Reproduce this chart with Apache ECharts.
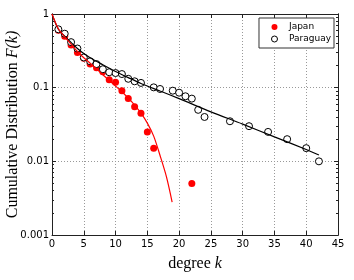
<!DOCTYPE html>
<html>
<head>
<meta charset="utf-8">
<script src="https://cdn.jsdelivr.net/npm/echarts@6/dist/echarts.min.js"></script>
<style>
html,body{margin:0;padding:0;background:#fff;}
#chart{width:354px;height:280px;}
</style>
</head>
<body>
<div id="chart"></div>
<script>
// ---- data ----
var japanK = [1, 2, 3, 4, 5, 6, 7, 8, 9, 10, 11, 12, 13, 14, 15, 16, 22];
var japanF = [0.60, 0.50, 0.38, 0.30, 0.25, 0.21, 0.186, 0.165, 0.128, 0.118, 0.091, 0.071, 0.055, 0.045, 0.025, 0.015, 0.005];

var paraguayK = [1, 2, 3, 4, 5, 6, 7, 8, 9, 10, 11, 12, 13, 14, 16, 17, 19, 20, 21, 22, 23, 24, 28, 31, 34, 37, 40, 42];
var paraguayF = [0.62, 0.54, 0.415, 0.34, 0.257, 0.228, 0.209, 0.178, 0.162, 0.158, 0.153, 0.132, 0.122, 0.116, 0.101, 0.096, 0.091, 0.0855, 0.0764, 0.071, 0.050, 0.040, 0.035, 0.030, 0.0251, 0.020, 0.0151, 0.010];

var fitParaguayK = [0, 1, 2, 3, 4, 5, 6, 8, 10, 12, 14, 17, 20, 25, 30, 35, 40, 42];
var fitParaguayF = [1.0, 0.62, 0.50, 0.41, 0.34, 0.29, 0.255, 0.205, 0.166, 0.137, 0.114, 0.090, 0.071, 0.047, 0.032, 0.0215, 0.0145, 0.0122];

var fitJapanK = [0, 1, 2, 3, 4, 5, 6, 7, 8, 9, 10, 11, 12, 13, 14, 15, 16, 17, 18, 18.9];
var fitJapanF = [1.0, 0.63, 0.49, 0.39, 0.31, 0.255, 0.215, 0.18, 0.15, 0.125, 0.105, 0.088, 0.072, 0.058, 0.045, 0.033, 0.022, 0.012, 0.0062, 0.0028];

var xTicks = [0, 5, 10, 15, 20, 25, 30, 35, 40, 45];
var yTickValues = [0.001, 0.01, 0.1, 1];
var yTickLabels = ['0.001', '0.01', '0.1', '1'];
var yMinorTicks = [0.002, 0.003, 0.004, 0.005, 0.006, 0.007, 0.008, 0.009,
                   0.02, 0.03, 0.04, 0.05, 0.06, 0.07, 0.08, 0.09,
                   0.2, 0.3, 0.4, 0.5, 0.6, 0.7, 0.8, 0.9];

var seriesNames = ['Japan', 'Paraguay'];
var xAxisName = 'degree ';
var xAxisVar = 'k';
var yAxisName = 'Cumulative Distribution ';
var yAxisVar = 'F(k)';

function pairs(a, b) { return a.map(function (v, i) { return [v, b[i]]; }); }

// ---- chart ----
var chart = echarts.init(document.getElementById('chart'), null, {renderer: 'canvas'});
var axisLine = {show: true, lineStyle: {color: '#222', width: 1}};
var tickFont = {fontFamily: 'DejaVu Sans', fontSize: 10, color: '#000'};
var serif = 'Liberation Serif';

function yAxisBase(pos) {
  return {
    type: 'log', logBase: 10, min: 0.001, max: 1, position: pos,
    axisLine: axisLine, splitLine: {show: false}, axisLabel: {show: false},
    axisTick: {show: true, inside: true, length: 4, lineStyle: {color: '#222'}}
  };
}

var yLeft = yAxisBase('left');
yLeft.axisLabel = Object.assign({show: true, margin: 3, formatter: function (v) {
  for (var i = 0; i < yTickValues.length; i++) {
    if (Math.abs(Math.log10(v) - Math.log10(yTickValues[i])) < 1e-6) return yTickLabels[i];
  }
  return '';
}}, tickFont);
yLeft.splitLine = {show: true, lineStyle: {color: '#999', type: [1, 2], width: 1}};
yLeft.name = '{n|' + yAxisName + '}{i|' + yAxisVar + '}';
yLeft.nameLocation = 'middle';
yLeft.nameGap = 31;
yLeft.nameMoveOverlap = false;
yLeft.nameTextStyle = {
  fontFamily: serif, fontSize: 16, color: '#000',
  rich: {n: {fontFamily: serif, fontSize: 16, color: '#000'},
         i: {fontFamily: serif, fontSize: 16, fontStyle: 'italic', color: '#000'}}
};

var yLeftMinor = yAxisBase('left');
yLeftMinor.axisTick = {show: true, inside: true, length: 2, customValues: yMinorTicks, lineStyle: {color: '#222'}};
var yRight = yAxisBase('right');
var yRightMinor = yAxisBase('right');
yRightMinor.axisTick = {show: true, inside: true, length: 2, customValues: yMinorTicks, lineStyle: {color: '#222'}};

var option = {
  backgroundColor: '#fff',
  animation: false,
  grid: {left: 52, right: 16, top: 14, bottom: 45, containLabel: false, outerBoundsMode: 'none'},
  legend: {
    data: [
      {name: seriesNames[0], icon: 'circle'},
      {name: seriesNames[1], icon: 'circle', itemStyle: {color: '#fff', borderColor: '#000', borderWidth: 1}}
    ],
    orient: 'vertical',
    right: 20, top: 18,
    padding: [4, 3, 4, 12],
    itemGap: 2,
    itemWidth: 19, itemHeight: 6,
    backgroundColor: '#fff',
    borderColor: '#333', borderWidth: 1, borderRadius: 0,
    textStyle: {fontFamily: 'DejaVu Sans', fontSize: 9, color: '#000', lineHeight: 10},
    selectedMode: false
  },
  xAxis: [{
    type: 'value', min: xTicks[0], max: xTicks[xTicks.length - 1], interval: 5, position: 'bottom',
    axisLine: axisLine,
    axisTick: {show: true, inside: true, length: 4, lineStyle: {color: '#222'}},
    axisLabel: Object.assign({margin: 4}, tickFont),
    splitLine: {show: true, lineStyle: {color: '#999', type: [1, 2], width: 1}},
    name: '{n|' + xAxisName + '}{i|' + xAxisVar + '}',
    nameLocation: 'middle', nameGap: 21, nameMoveOverlap: false,
    nameTextStyle: {
      fontFamily: serif, fontSize: 16, color: '#000',
      rich: {n: {fontFamily: serif, fontSize: 16, color: '#000'},
             i: {fontFamily: serif, fontSize: 16, fontStyle: 'italic', color: '#000'}}
    }
  }, {
    type: 'value', min: xTicks[0], max: xTicks[xTicks.length - 1], interval: 5, position: 'top',
    axisLine: axisLine,
    axisTick: {show: true, inside: true, length: 4, lineStyle: {color: '#222'}},
    axisLabel: {show: false}, splitLine: {show: false}
  }],
  yAxis: [yLeft, yLeftMinor, yRight, yRightMinor],
  series: [{
    name: seriesNames[0], type: 'scatter', data: pairs(japanK, japanF),
    symbol: 'circle', symbolSize: 7, itemStyle: {color: '#ff0000', opacity: 1}, z: 2
  }, {
    name: seriesNames[1], type: 'scatter', data: pairs(paraguayK, paraguayF),
    symbol: 'circle', symbolSize: 7,
    itemStyle: {color: '#fff', borderColor: '#000', borderWidth: 1, opacity: 1}, z: 3
  }, {
    name: 'ParaguayFit', type: 'line', data: pairs(fitParaguayK, fitParaguayF),
    showSymbol: false, symbol: 'none', smooth: 0.3,
    lineStyle: {color: '#000', width: 1.2}, z: 4
  }, {
    name: 'JapanFit', type: 'line', data: pairs(fitJapanK, fitJapanF),
    showSymbol: false, symbol: 'none', smooth: 0.3,
    lineStyle: {color: '#ff0000', width: 1.2}, z: 5
  }]
};
chart.setOption(option);
</script>
</body>
</html>
